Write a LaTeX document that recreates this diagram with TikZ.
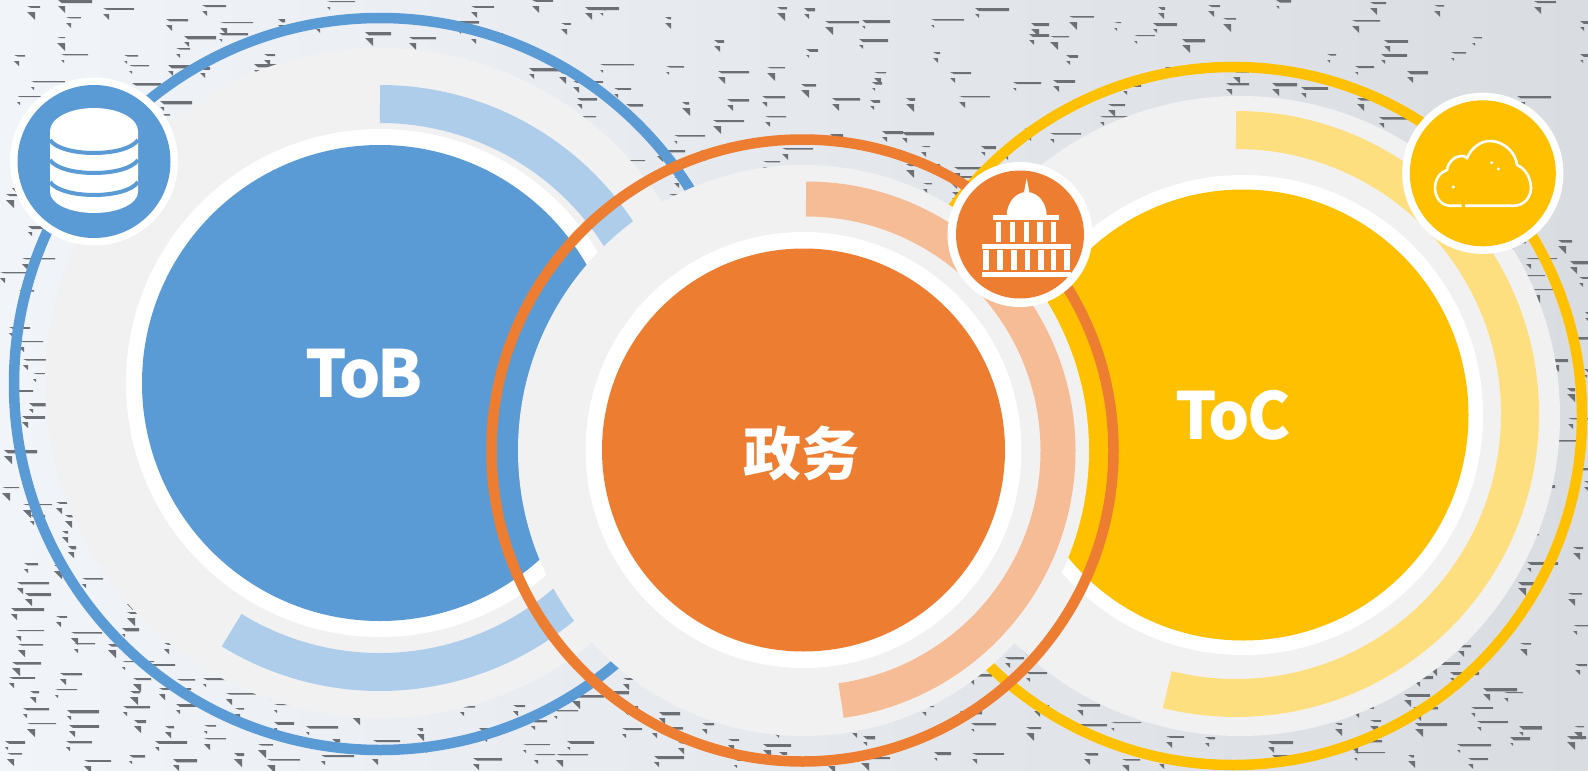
\documentclass[tikz,border=0pt]{standalone}
\usepackage{fontspec}
\newfontfamily\cjkfont{Noto Sans CJK SC}
\newfontfamily\tightfont{Noto Sans CJK SC}[LetterSpace=-4]
\tikzset{
  ringline/.style={line width=10.5pt},
  bandarc/.style={line width=38pt},
  bigtext/.style={text=white,font=\tightfont\bfseries\fontsize{65}{65}\selectfont,inner sep=0pt},
  marktone/.style={fill=markgrey},
}
\begin{document}
\begin{tikzpicture}[x=1pt,y=1pt]

\definecolor{tobblue}{HTML}{5B9BD5}
\definecolor{toborange}{HTML}{ED7D31}
\definecolor{tocyellow}{HTML}{FFC000}
\definecolor{lightblue}{HTML}{ADCDEA}
\definecolor{lightorange}{HTML}{F6BC96}
\definecolor{lightyellow}{HTML}{FEDF80}
\definecolor{diskgrey}{HTML}{F1F1F1}
\definecolor{markgrey}{HTML}{6C6F73}
\definecolor{paleback}{HTML}{F1F4F8}
\definecolor{midback}{HTML}{E4E7EB}
\definecolor{darkback}{HTML}{D9DDE2}

\useasboundingbox (0,0) rectangle (1588,-771);
\clip (0,0) rectangle (1588,-771);

% Draw the backdrop
\shade[left color=paleback, middle color=midback, right color=darkback] (0,0) rectangle (1588,-771);

% Draw the scattered marks
\pgfmathsetseed{771}
\foreach \row in {0,...,47}{
  \foreach \col in {0,...,31}{
    \pgfmathsetmacro{\mx}{50*\col+random(0,35)}
    \pgfmathsetmacro{\my}{16*\row+random(0,8)}
    \pgfmathsetmacro{\ml}{random(6,34)}
    \pgfmathsetmacro{\mh}{1+2.5*rnd}
    \pgfmathsetmacro{\mt}{random(3,8)}
    \pgfmathtruncatemacro{\keep}{rnd<((0.6+0.35*\my/771)*(1-0.45*\mx/1588))}
    \ifnum\keep=1
      \fill[marktone] (\mx,-\my) -- ++(\ml,0) -- ++(0,-\mh) -- ++(-\ml+4,0) -- cycle;
      \fill[marktone] (\mx,-\my-6) -- ++(\mt,0) -- ++(0,-\mt) -- cycle;
    \fi
  }
}

% Draw the ToB group
\draw[ringline, tobblue] (380,-384) circle (366);
\fill[diskgrey] (380,-383) circle (335);
\draw[bandarc, lightblue] (380,-388) ++(90:284) arc (90:25:284);
\draw[bandarc, lightblue] (380,-388) ++(238.5:284) arc (238.5:320:284);
\fill[white] (380,-383) circle (254);
\fill[tobblue] (380,-383) circle (238);

% Draw the ToC group
\draw[ringline, tocyellow] (1233,-416) circle (349);
\fill[diskgrey] (1240,-416) circle (320);
\draw[bandarc, lightyellow] (1236,-414) ++(90:284) arc (90:-104:284);
\fill[white] (1243,-415) circle (240);
\fill[tocyellow] (1243,-415) circle (225.5);

% Draw the middle group
\fill[diskgrey] (803.5,-450.5) circle (285.5);
\draw[line width=35pt, lightorange] (806,-451) ++(90:252) arc (90:-82:252);
\fill[white] (803.5,-450) circle (218);
\fill[toborange] (803.5,-450) circle (201.5);
\draw[ringline, toborange] (802.5,-450.5) circle (311);

% Draw the labels
\node[bigtext] (tob) at (364.5,-373.5) {ToB};
\node[bigtext] (toc) at (1233,-415.5) {ToC};
\node[bigtext, font=\cjkfont\bfseries\fontsize{58}{58}\selectfont] (gov) at (801.5,-454) {政务};

% Draw the database badge
\fill[white] (94,-161.5) circle (84);
\fill[tobblue] (94,-161.5) circle (76.5);
\fill[white] (50,-192) arc (180:360:44 and 21) -- (138,-131) arc (0:180:44 and 23) -- cycle;
\foreach \y in {140,160,182}
  \draw[tobblue, line width=4pt] (50,-\y) .. controls (62,-\y-17.3) and (126,-\y-17.3) .. (138,-\y);

% Draw the capitol badge
\fill[white] (1020,-234.5) circle (72.5);
\fill[toborange] (1020,-234.5) circle (64);
\fill[white] (1026.7,-178.3) -- (1029.3,-192) -- (1024,-192) -- cycle;
\fill[white] (1006.7,-216) arc (180:0:20 and 24) -- cycle;
\fill[white] (993.3,-215.3) rectangle (1059.3,-220);
\fill[white] (981.7,-243.7) rectangle (1070.7,-248.7);
\fill[white] (982.3,-272) rectangle (1070.7,-277);
\foreach \x in {998.7,1012.3,1026.7,1040,1053.3}
  \fill[white] (\x-2.65,-221.7) rectangle (\x+2.65,-241.7);
\foreach \x in {986,1000,1014,1027.3,1041,1053.3,1067}
  \fill[white] (\x-2.65,-250) rectangle (\x+2.65,-270);

% Draw the cloud badge
\fill[white] (1482.8,-173.3) circle (80.6);
\fill[tocyellow] (1482.8,-173.3) circle (73);
\draw[white, line width=2.6pt] (1461.7,-205.7) -- (1450,-205.7)
  .. controls (1441,-205.7) and (1435,-197) .. (1435,-188)
  .. controls (1435,-178) and (1441,-172) .. (1447,-170)
  .. controls (1448,-162) and (1455,-156) .. (1461,-156)
  .. controls (1464,-156) and (1465,-156) .. (1467,-158)
  .. controls (1472,-147) and (1481,-141) .. (1490,-141)
  .. controls (1504,-141) and (1516,-153) .. (1517,-165)
  .. controls (1525,-168) and (1531,-178) .. (1531,-188)
  .. controls (1531,-197) and (1524,-205.7) .. (1514,-205.7)
  -- (1465,-205.7);
\foreach \x/\y in {1491.7/162.7,1498.3/169,1453.3/187}
  \fill[white] (\x,-\y) circle (1.7);

\end{tikzpicture}
\end{document}
